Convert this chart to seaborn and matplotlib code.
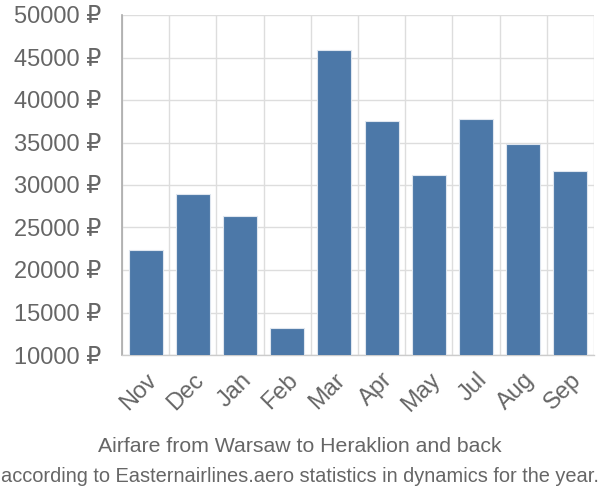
import matplotlib
matplotlib.use("Agg")
import matplotlib.pyplot as plt
import seaborn as sns
import pandas as pd
import numpy as np
from matplotlib.transforms import ScaledTranslation

months = ["Nov", "Dec", "Jan", "Feb", "Mar", "Apr", "May", "Jul", "Aug", "Sep"]
prices = [22300, 28900, 26350, 13140, 45880, 37490, 31180, 37730, 34780, 31610]
yticks = [10000, 15000, 20000, 25000, 30000, 35000, 40000, 45000, 50000]
title = "Airfare from Warsaw to Heraklion and back"
subtitle = "according to Easternairlines.aero statistics in dynamics for the year."

sns.set_theme(style="white")
plt.rcParams['font.family'] = ['Liberation Sans', 'DejaVu Sans']

df = pd.DataFrame({"month": months, "price": prices})

fig = plt.figure(figsize=(6, 5), dpi=100)
ax = fig.add_axes([122/600, 1-355/500, (594-122)/600, (355-15)/500])

sns.barplot(data=df, x="month", y="price", color="#4C78A8", saturation=1,
            width=0.72, edgecolor="#dfe6ef", linewidth=0.8, ax=ax, zorder=3)

ax.set_ylim(10000, 50000)
ax.set_xlim(-0.5, len(months) - 0.5)
ax.set_yticks(yticks)
ax.set_yticklabels([f"{v} ₽" for v in yticks], color="#666666", fontsize=17)
ax.set_xticks(range(len(months)))
ax.set_xticklabels(months, rotation=45, ha="right", rotation_mode="anchor",
                   color="#666666", fontsize=17)
offset = ScaledTranslation(-4/100, 0, fig.dpi_scale_trans)
for lbl in ax.get_xticklabels():
    lbl.set_transform(lbl.get_transform() + offset)
ax.set_xticks(np.arange(-0.5, len(months), 1), minor=True)
ax.tick_params(axis="x", which="major", length=0, pad=10)
ax.tick_params(axis="x", which="minor", length=14, color="#dddddd", width=1)
ax.tick_params(axis="y", which="major", length=14, color="#dddddd", width=1, pad=1)
ax.grid(axis="y", which="major", color="#dddddd", linewidth=1, zorder=0)
ax.grid(axis="x", which="minor", color="#dddddd", linewidth=1, zorder=0)
ax.set_axisbelow(True)
ax.set_xlabel("")
ax.set_ylabel("")
for s in ["top", "right"]:
    ax.spines[s].set_visible(False)
ax.spines["left"].set_color("#aaaaaa")
ax.spines["left"].set_linewidth(1.2)
ax.spines["bottom"].set_color("#cccccc")
ax.spines["bottom"].set_linewidth(1)

fig.text(0.5, 1-446/500, title, ha="center", va="center", color="#666666", fontsize=15.3)
fig.text(0.5, 1-476/500, subtitle, ha="center", va="center", color="#666666", fontsize=14.4)

fig.savefig("out.png", dpi=100)
